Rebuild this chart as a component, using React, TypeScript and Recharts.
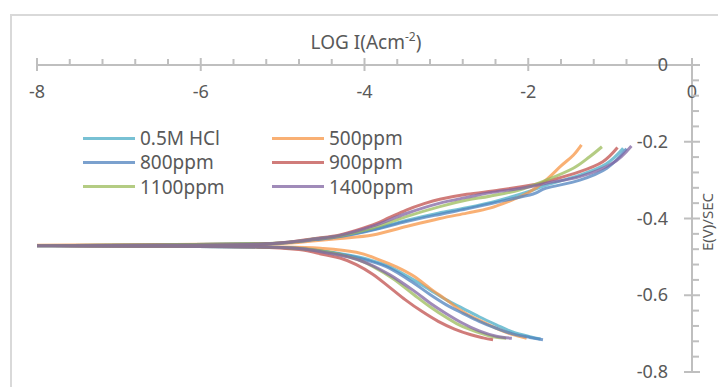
import React from 'react';
import { LineChart, Line, XAxis, YAxis, Customized } from 'recharts';

// ---------- DATA ----------
const seriesNames = ['0.5M HCl', '500ppm', '800ppm', '900ppm', '1100ppm', '1400ppm'];
const seriesColors = ['#4BACC6', '#F79646', '#4F81BD', '#C0504D', '#9BBB59', '#8064A2'];

const xMajorTicks = [-8, -6, -4, -2, 0];
const yMajorTicks = [-0.8, -0.6, -0.4, -0.2, 0];

// 0.5M HCl
const hclLogI = [-1.85, -1.98, -2.2, -2.39, -2.6, -2.8, -3.0, -3.2, -3.4, -3.69, -3.95, -4.2, -4.5, -4.8, -5.3, -6.5, -8.0,
  -6.5, -5.3, -4.9, -4.6, -4.3, -3.9, -3.49, -3.1, -2.75, -2.35, -2.0, -1.78, -1.37, -1.05, -0.84];
const hclE = [-0.714, -0.708, -0.695, -0.677, -0.656, -0.634, -0.612, -0.586, -0.56, -0.526, -0.507, -0.495, -0.485, -0.477, -0.474, -0.472, -0.471,
  -0.469, -0.466, -0.462, -0.455, -0.447, -0.429, -0.405, -0.386, -0.372, -0.352, -0.33, -0.313, -0.287, -0.258, -0.217];

// 500ppm
const p500LogI = [-2.02, -2.2, -2.39, -2.6, -2.8, -3.0, -3.2, -3.4, -3.61, -3.85, -4.1, -4.5, -5.0, -6.5, -8.0,
  -6.5, -5.3, -4.9, -4.6, -4.3, -3.9, -3.49, -3.08, -2.75, -2.47, -2.2, -2.0, -1.8, -1.6, -1.45, -1.35];
const p500E = [-0.712, -0.702, -0.686, -0.665, -0.643, -0.612, -0.582, -0.55, -0.526, -0.505, -0.488, -0.478, -0.474, -0.472, -0.47,
  -0.468, -0.466, -0.464, -0.458, -0.452, -0.443, -0.421, -0.4, -0.386, -0.373, -0.352, -0.333, -0.303, -0.263, -0.235, -0.208];

// 800ppm
const p800LogI = [-1.82, -1.98, -2.2, -2.39, -2.6, -2.8, -3.0, -3.2, -3.4, -3.69, -3.95, -4.2, -4.5, -4.8, -5.3, -6.5, -8.0,
  -6.5, -5.3, -4.9, -4.6, -4.3, -3.9, -3.49, -3.1, -2.75, -2.35, -1.94, -1.78, -1.37, -1.04, -0.8];
const p800E = [-0.716, -0.71, -0.7, -0.686, -0.668, -0.647, -0.625, -0.598, -0.568, -0.53, -0.51, -0.497, -0.486, -0.478, -0.474, -0.472, -0.471,
  -0.469, -0.466, -0.462, -0.455, -0.447, -0.43, -0.408, -0.39, -0.375, -0.356, -0.336, -0.321, -0.3, -0.269, -0.218];

// 900ppm
const p900LogI = [-2.43, -2.55, -2.7, -2.9, -3.1, -3.3, -3.5, -3.7, -3.9, -4.1, -4.3, -4.5, -4.8, -5.3, -6.5, -8.0,
  -6.5, -5.3, -4.91, -4.6, -4.3, -3.9, -3.7, -3.49, -3.28, -3.08, -2.75, -2.35, -1.94, -1.78, -1.37, -1.09, -0.91];
const p900E = [-0.716, -0.711, -0.703, -0.688, -0.668, -0.642, -0.612, -0.578, -0.545, -0.52, -0.503, -0.494, -0.481, -0.474, -0.472, -0.471,
  -0.47, -0.467, -0.461, -0.452, -0.443, -0.417, -0.398, -0.378, -0.362, -0.35, -0.337, -0.326, -0.312, -0.304, -0.278, -0.252, -0.215];

// 1100ppm
const p1100LogI = [-2.27, -2.47, -2.8, -3.0, -3.2, -3.4, -3.65, -3.9, -4.1, -4.4, -4.8, -5.3, -6.5, -8.0,
  -6.5, -5.3, -4.9, -4.6, -4.3, -3.9, -3.49, -3.08, -2.75, -2.47, -2.1, -1.78, -1.45, -1.25, -1.1];
const p1100E = [-0.712, -0.706, -0.682, -0.658, -0.63, -0.598, -0.557, -0.525, -0.506, -0.489, -0.478, -0.474, -0.472, -0.471,
  -0.469, -0.466, -0.461, -0.453, -0.445, -0.425, -0.395, -0.369, -0.352, -0.342, -0.325, -0.3, -0.269, -0.239, -0.213];

// 1400ppm
const p1400LogI = [-2.2, -2.39, -2.6, -2.8, -3.0, -3.2, -3.4, -3.69, -3.95, -4.2, -4.5, -4.8, -5.3, -6.5, -8.0,
  -6.5, -5.3, -4.9, -4.6, -4.3, -3.9, -3.49, -3.08, -2.75, -2.47, -2.1, -1.78, -1.37, -0.97, -0.74];
const p1400E = [-0.712, -0.707, -0.693, -0.673, -0.648, -0.62, -0.588, -0.547, -0.518, -0.5, -0.488, -0.478, -0.474, -0.472, -0.471,
  -0.47, -0.467, -0.461, -0.453, -0.444, -0.42, -0.387, -0.36, -0.345, -0.333, -0.322, -0.308, -0.291, -0.256, -0.211];

const seriesLogI = [hclLogI, p500LogI, p800LogI, p900LogI, p1100LogI, p1400LogI];
const seriesE = [hclE, p500E, p800E, p900E, p1100E, p1400E];

// ---------- BUILD ----------
const seriesData = seriesLogI.map((xs, i) => xs.map((x, j) => ({ x, y: seriesE[i][j] })));

const xTicks: number[] = [];
for (let i = 0; i < xMajorTicks.length - 1; i++) {
  for (let k = 0; k < 5; k++) xTicks.push(Math.round((xMajorTicks[i] + k * 0.4) * 10) / 10);
}
xTicks.push(xMajorTicks[xMajorTicks.length - 1]);

const yTicks: number[] = [];
for (let i = 0; i < yMajorTicks.length - 1; i++) {
  for (let k = 0; k < 5; k++) yTicks.push(Math.round((yMajorTicks[i] + k * 0.04) * 100) / 100);
}
yTicks.push(yMajorTicks[yMajorTicks.length - 1]);

// Catmull-Rom style smoothing curve (like Excel's smoothed scatter lines)
class SmoothCurve {
  _context: any;
  _k = 1 / 6;
  _line: number = NaN;
  _point = 0;
  _x0 = NaN; _x1 = NaN; _x2 = NaN; _y0 = NaN; _y1 = NaN; _y2 = NaN;
  constructor(context: any) {
    this._context = context;
  }
  areaStart() { this._line = 0; }
  areaEnd() { this._line = NaN; }
  lineStart() {
    this._x0 = this._x1 = this._x2 = this._y0 = this._y1 = this._y2 = NaN;
    this._point = 0;
  }
  seg(x: number, y: number) {
    this._context.bezierCurveTo(
      this._x1 + this._k * (this._x2 - this._x0),
      this._y1 + this._k * (this._y2 - this._y0),
      this._x2 + this._k * (this._x1 - x),
      this._y2 + this._k * (this._y1 - y),
      this._x2,
      this._y2
    );
  }
  lineEnd() {
    switch (this._point) {
      case 2: this._context.lineTo(this._x2, this._y2); break;
      case 3: this.seg(this._x1, this._y1); break;
    }
    if (this._line || (this._line !== 0 && this._point === 1)) this._context.closePath();
    this._line = 1 - this._line;
  }
  point(x: number, y: number) {
    x = +x; y = +y;
    switch (this._point) {
      case 0:
        this._point = 1;
        this._line ? this._context.lineTo(x, y) : this._context.moveTo(x, y);
        break;
      case 1:
        this._point = 2;
        this._x1 = x; this._y1 = y;
        break;
      case 2:
        this._point = 3;
        this.seg(x, y);
        break;
      default:
        this.seg(x, y);
        break;
    }
    this._x0 = this._x1; this._x1 = this._x2; this._x2 = x;
    this._y0 = this._y1; this._y1 = this._y2; this._y2 = y;
  }
}
const smoothCurve: any = (context: any) => new SmoothCurve(context);

const FONT = '"Noto Sans", sans-serif';
const TEXT = '#595959';
const AXIS = '#bfbfbf';

const isMajorX = (v: number) => xMajorTicks.some((m) => Math.abs(m - v) < 1e-6);
const isMajorY = (v: number) => yMajorTicks.some((m) => Math.abs(m - v) < 1e-6);

const XTick = (props: any) => {
  const { x, y, payload } = props;
  const v = payload.value;
  if (isMajorX(v)) {
    return (
      <g>
        <line x1={x} x2={x} y1={y - 7} y2={y + 6} stroke={AXIS} strokeWidth={2} />
        <text x={x} y={y + 33} textAnchor="middle" fill={TEXT} fontSize={18} fontFamily={FONT}>
          {String(v)}
        </text>
      </g>
    );
  }
  return <line x1={x} x2={x} y1={y - 6} y2={y} stroke={AXIS} strokeWidth={2} />;
};

const YTick = (props: any) => {
  const { x, y, payload } = props;
  const v = payload.value;
  if (isMajorY(v)) {
    return (
      <g>
        <line x1={x - 8} x2={x + 8} y1={y} y2={y} stroke={AXIS} strokeWidth={2} />
        <text x={x - 24} y={y + 6} textAnchor="end" fill={TEXT} fontSize={18} fontFamily={FONT}>
          {v === 0 ? '0' : v.toFixed(1)}
        </text>
      </g>
    );
  }
  return <line x1={x} x2={x + 7} y1={y} y2={y} stroke={AXIS} strokeWidth={2} />;
};

const Titles = () => (
  <g>
    <text x={366} y={49} textAnchor="middle" fill={TEXT} fontSize={19} fontFamily={FONT}>
      LOG I(Acm
      <tspan dy={-8} fontSize={12}>-2</tspan>
      <tspan dy={8}>)</tspan>
    </text>
    <text
      x={713}
      y={222}
      transform="rotate(-90 713 222)"
      textAnchor="middle"
      fill={TEXT}
      fontSize={15}
      fontFamily={FONT}
    >
      E(V)/SEC
    </text>
  </g>
);

export default function App() {
  return (
    <div style={{ position: 'absolute', left: 0, top: 0, width: 718, height: 387, background: '#fff', overflow: 'hidden' }}>
      <div
        style={{
          position: 'absolute',
          left: 10,
          top: 14,
          width: 800,
          height: 500,
          border: '2px solid #d9d9d9',
          boxSizing: 'border-box',
        }}
      />
      <div style={{ position: 'absolute', left: 0, top: 0 }}>
        <LineChart width={718} height={387} margin={{ top: 35, right: 25, left: 37, bottom: 15 }}>
          <XAxis
            xAxisId={0}
            type="number"
            dataKey="x"
            orientation="top"
            height={30}
            domain={[-8, 0]}
            ticks={xTicks}
            interval={0}
            allowDataOverflow
            tickSize={0}
            tickMargin={0}
            tickLine={false}
            axisLine={{ stroke: AXIS, strokeWidth: 2 }}
            tick={<XTick />}
          />
          <YAxis
            yAxisId={0}
            type="number"
            dataKey="y"
            orientation="right"
            width={1}
            domain={[-0.8, 0]}
            ticks={yTicks}
            interval={0}
            allowDataOverflow
            tickSize={0}
            tickMargin={0}
            tickLine={false}
            axisLine={{ stroke: AXIS, strokeWidth: 2 }}
            tick={<YTick />}
          />
          {seriesData.map((d, i) => (
            <Line
              key={seriesNames[i]}
              data={d}
              dataKey="y"
              name={seriesNames[i]}
              type={smoothCurve}
              stroke={seriesColors[i]}
              strokeOpacity={0.75}
              strokeWidth={3}
              dot={false}
              activeDot={false}
              isAnimationActive={false}
            />
          ))}
          <Customized component={Titles} />
        </LineChart>
      </div>
      <div style={{ position: 'absolute', left: 83, top: 126, width: 400 }}>
        {seriesNames.map((n, i) => (
          <div
            key={n}
            style={{
              position: 'absolute',
              left: (i % 2) * 189,
              top: Math.floor(i / 2) * 24.3,
              height: 24,
              display: 'flex',
              alignItems: 'center',
              whiteSpace: 'nowrap',
            }}
          >
            <div style={{ width: 52, height: 3, background: seriesColors[i], opacity: 0.75 }} />
            <span style={{ marginLeft: 5, fontFamily: FONT, fontSize: 19, color: TEXT }}>{n}</span>
          </div>
        ))}
      </div>
    </div>
  );
}
